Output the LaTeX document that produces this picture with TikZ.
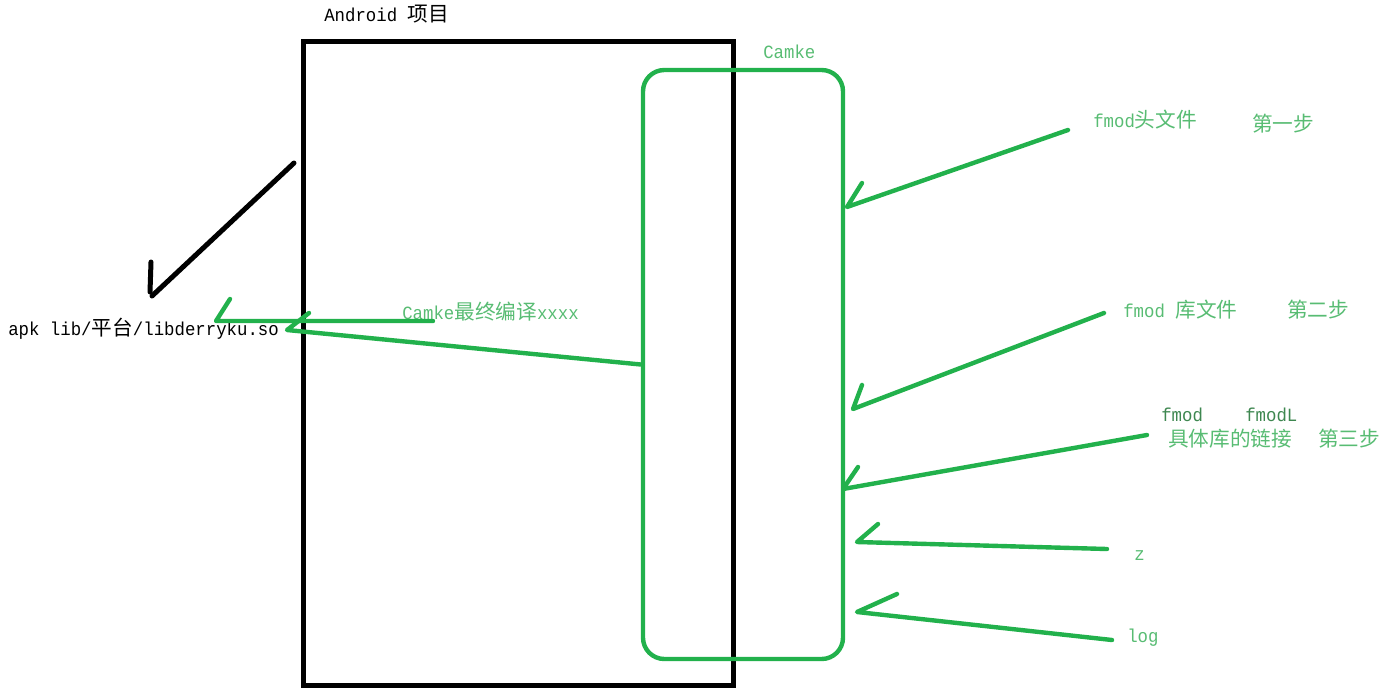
\documentclass[tikz,border=0pt]{standalone}
\usepackage{fontspec}
\setmainfont[FakeStretch=0.93]{Liberation Mono}
\newfontfamily\cjk{Noto Sans CJK SC}
\newcommand\zh[1]{{\cjk\fontsize{15.5pt}{16pt}\selectfont #1}}
\definecolor{paintgreen}{RGB}{34,177,76}
\definecolor{labelgreen}{RGB}{88,188,115}
\definecolor{darklabel}{RGB}{62,135,80}
\tikzset{
    pen/.style={line width=3.75pt, line cap=round, line join=round},
    greenpen/.style={pen, paintgreen, line width=3.3pt},
    lbl/.style={anchor=west, inner sep=0pt, font=\fontsize{14pt}{16pt}\selectfont},
}
\begin{document}
\begin{tikzpicture}[x=0.75pt, y=-0.75pt]
        \useasboundingbox (0,0) rectangle (1386,693);
        % the two boxes
        \node[draw, line width=3.75pt, minimum width=322.5pt, minimum height=483pt, inner sep=0pt] (project) at (518,363) {};
        \node[draw, paintgreen, line width=3.3pt, rounded corners=16pt, minimum width=150pt, minimum height=441.75pt, inner sep=0pt] (camke) at (743,364.5) {};
        % labels
        \node[lbl] (projtitle) at (324,14) {Android \zh{项目}};
        \node[lbl, labelgreen] (camketitle) at (763,52) {Camke};
        \node[lbl] (apk) at (8,329) {apk lib/\zh{平台}/libderryku.so};
        \node[lbl, labelgreen] (build) at (402,312) {Camke\zh{最终编译}xxxx};
        \node[lbl, labelgreen] (header) at (1093,120) {fmod\zh{头文件}};
        \node[lbl, labelgreen] (step1) at (1252,124) {\zh{第一步}};
        \node[lbl, labelgreen] (libfile) at (1123,310) {fmod \zh{库文件}};
        \node[lbl, labelgreen] (step2) at (1287,310) {\zh{第二步}};
        \node[lbl, darklabel] (fmod) at (1161,415) {fmod};
        \node[lbl, darklabel] (fmodl) at (1245,415) {fmodL};
        \node[lbl, labelgreen] (link) at (1168,439) {\zh{具体库的链接}};
        \node[lbl, labelgreen] (step3) at (1318,439) {\zh{第三步}};
        \node[lbl, labelgreen] (zlib) at (1134,556) {z};
        \node[lbl, labelgreen] (loglib) at (1127,638) {log};
        % black stroke
        \coordinate (bs) at (294,163); \coordinate (be) at (152,296);
        \coordinate (bt) at (151,262); \coordinate (bb) at (150,292);
        \draw[pen] (bs) -- (be);
        \draw[pen] (bt) -- (bb);
        % arrow ends
        \coordinate (ot) at (433,321); \coordinate (oh) at (216,321); \coordinate (ow) at (230,299);
        \coordinate (sh) at (287,330); \coordinate (sw) at (309,313);
        \coordinate (t1) at (1068,130); \coordinate (h1) at (847,207); \coordinate (w1) at (862,183);
        \coordinate (t2) at (1104,313); \coordinate (h2) at (853,409); \coordinate (w2) at (862,385);
        \coordinate (t3) at (1147,435); \coordinate (h3) at (843,489); \coordinate (w3) at (858,467);
        \coordinate (t4) at (1107,549); \coordinate (h4) at (857,542); \coordinate (w4) at (878,524);
        \coordinate (t5) at (1112,640); \coordinate (h5) at (857,612); \coordinate (w5) at (897,594);
        \draw[greenpen] (ot) -- (oh) -- (ow);
        \draw[greenpen] (camke.west) -- (sh) -- (sw);
        \draw[greenpen] (t1) -- (h1) -- (w1);
        \draw[greenpen] (t2) -- (h2) -- (w2);
        \draw[greenpen] (t3) -- (h3) -- (w3);
        \draw[greenpen] (t4) -- (h4) -- (w4);
        \draw[greenpen] (t5) -- (h5) -- (w5);
\end{tikzpicture}
\end{document}
